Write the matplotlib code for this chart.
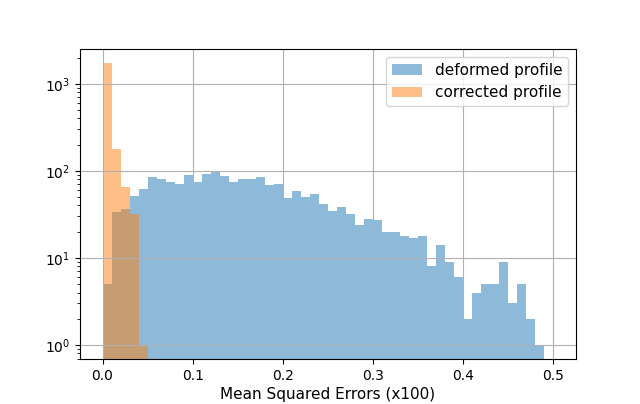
import matplotlib
matplotlib.use("Agg")
import matplotlib.pyplot as plt
import numpy as np

# bin edges: 0.00 .. 0.50 in steps of 0.01
edges = np.linspace(0, 0.5, 51)

# counts per bin
deformed = [5, 34, 36, 52, 62, 84, 81, 74, 71, 89,
            74, 92, 96, 87, 74, 81, 81, 84, 69, 70,
            49, 58, 50, 54, 42, 35, 38, 32, 24, 28,
            27, 20, 20, 18, 17, 18, 8, 14, 9, 6,
            2, 4, 5, 5, 9, 3, 5, 2, 1, 0]
corrected = [1730, 180, 65, 32, 1] + [0] * 45

centers = (edges[:-1] + edges[1:]) / 2

fig = plt.figure(figsize=(6.4, 4.04), dpi=100)
ax = fig.add_subplot(111)
fig.subplots_adjust(left=0.125, right=0.9, top=0.879, bottom=0.111)

ax.hist(centers, bins=edges, weights=deformed, alpha=0.5, log=True,
        label='deformed profile')
ax.hist(centers, bins=edges, weights=corrected, alpha=0.5, log=True,
        label='corrected profile')

ax.set_xticks([0.0, 0.1, 0.2, 0.3, 0.4, 0.5])
ax.grid(True)
ax.set_xlabel('Mean Squared Errors (x100)', fontsize=11, labelpad=3)
ax.legend(fontsize=11)

plt.savefig('out.png')
